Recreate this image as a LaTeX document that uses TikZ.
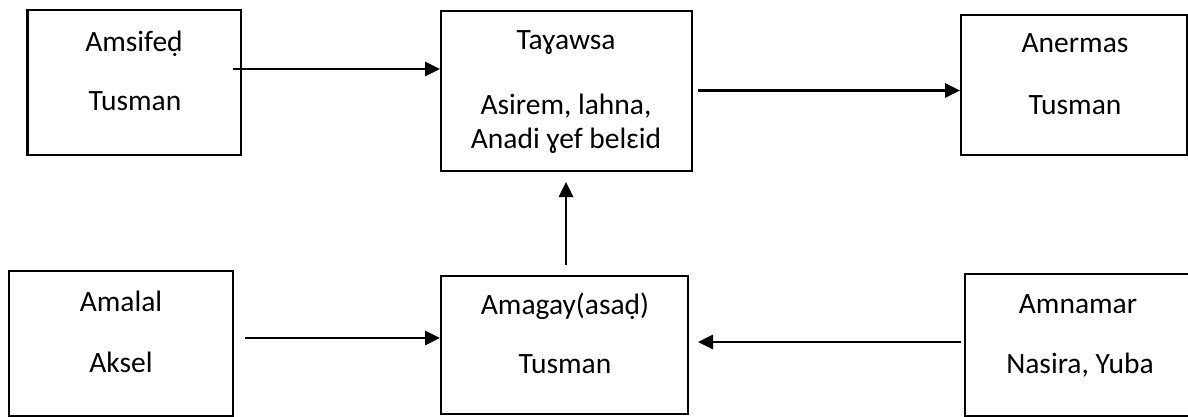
\documentclass[tikz,border=0pt]{standalone}
\usepackage{fontspec}
\setmainfont{Carlito}
\usetikzlibrary{arrows.meta}
\begin{document}
\begin{tikzpicture}[x=1pt,y=-1pt,
  box/.style={draw,line width=2.9pt,inner sep=0pt,outer sep=0pt},
  txt/.style={anchor=base,inner sep=0pt,font=\fontsize{29.5}{34}\selectfont},
  arr/.style={line width=2.9pt,-{Triangle[length=15pt,width=14pt]}}]
\useasboundingbox (0,0) rectangle (1188,417);
\begin{scope}
\clip (0,0) rectangle (1188,417);
\node[box,minimum width=213.5pt,minimum height=145pt] (A) at (134.25,82.5) {};
\node[box,minimum width=251pt,minimum height=160pt] (T) at (566.5,91) {};
\node[box,minimum width=226pt,minimum height=140pt] (N) at (1074,85) {};
\node[box,minimum width=224pt,minimum height=145pt] (L) at (121,343.5) {};
\node[box,minimum width=247pt,minimum height=138pt] (M) at (564.5,345) {};
\node[box,minimum width=230pt,minimum height=142pt] (R) at (1080,345) {};
\end{scope}
\node[txt] (a1) at (134,52) {Amsifeḍ};
\node[txt] (a2) at (135,111) {Tusman};
\node[txt] (t1) at (566,50) {Taɣawsa};
\node[txt] (t2) at (566,115) {Asirem, lahna,};
\node[txt] (t3) at (566,149) {Anadi ɣef belɛid};
\node[txt] (n1) at (1075,53) {Anermas};
\node[txt] (n2) at (1075,114) {Tusman};
\node[txt] (l1) at (121,311) {Amalal};
\node[txt] (l2) at (121,372) {Aksel};
\node[txt] (m1) at (565,314) {Amagay(asaḍ)};
\node[txt] (m2) at (565,373) {Tusman};
\node[txt] (r1) at (1078,313) {Amnamar};
\node[txt] (r2) at (1080,373) {Nasira, Yuba};
\coordinate (y1) at (0,69);
\coordinate (y2) at (0,90.5);
\coordinate (y3) at (0,338);
\coordinate (y4) at (0,342);
\coordinate (x5) at (566,0);
\draw[arr] ([xshift=-8pt]A.east |- y1) -- ([xshift=-1pt]T.west |- y1);
\draw[arr] ([xshift=6pt]T.east |- y2) -- ([xshift=-1pt]N.west |- y2);
\draw[arr] ([xshift=12pt]L.east |- y3) -- ([xshift=-1pt]M.west |- y3);
\draw[arr] ([yshift=11pt]M.north -| x5) -- ([yshift=-11pt]T.south -| x5);
\draw[arr] ([xshift=-4pt]R.west |- y4) -- ([xshift=10pt]M.east |- y4);
\end{tikzpicture}
\end{document}
